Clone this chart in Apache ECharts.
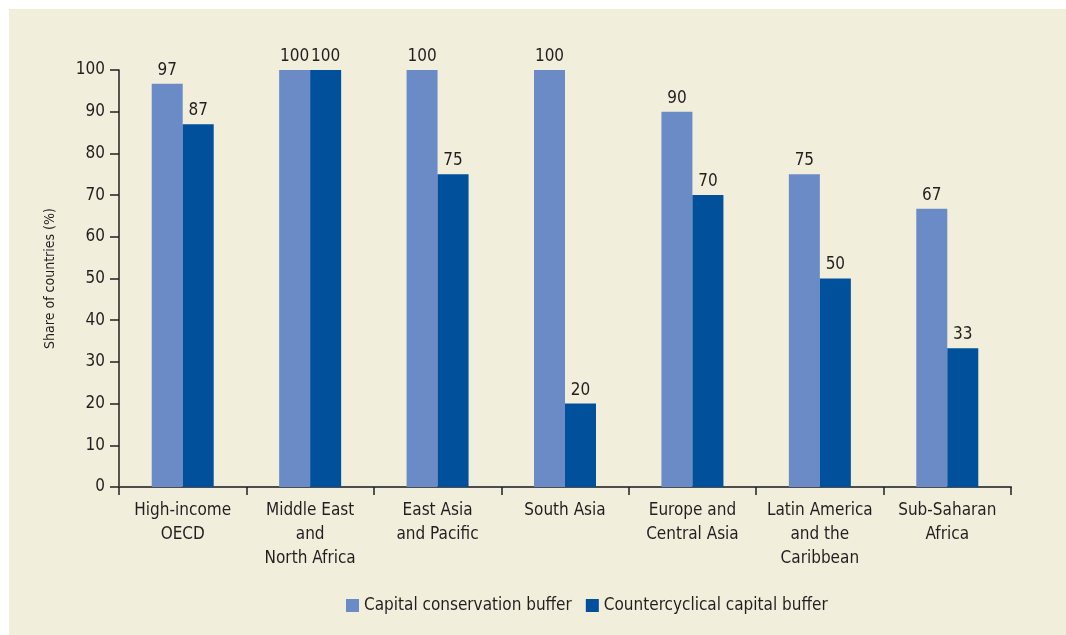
<!DOCTYPE html>
<html>
<head>
    <meta charset="utf-8" />
    <title>Capital buffers by region</title>
    <script src="https://cdn.jsdelivr.net/npm/echarts@6/dist/echarts.min.js"></script>
    <style>
        body { margin: 0; background: #ffffff; }
        #main { position: absolute; left: 9px; top: 9px; width: 1057px; height: 626px; }
    </style>
</head>
<body>
<div id="main"></div>
<script type="text/javascript">
    var regions = ['High-income\nOECD', 'Middle East\nand\nNorth Africa', 'East Asia\nand Pacific', 'South Asia',
                   'Europe and\nCentral Asia', 'Latin America\nand the\nCaribbean', 'Sub-Saharan\nAfrica'];
    var conservation = [96.7, 100, 100, 100, 90, 75, 66.7];
    var countercyclical = [87, 100, 75, 20, 70, 50, 33.3];
    var seriesNames = ['Capital conservation buffer', 'Countercyclical capital buffer'];

    var font = "'DejaVu Sans Condensed', 'Liberation Sans Narrow', sans-serif";
    var ink = '#231f20';

    var myChart = echarts.init(document.getElementById('main'));

    var barLabel = {
        show: true,
        position: 'top',
        distance: 5,
        color: ink,
        fontFamily: font,
        fontSize: 17,
        formatter: function (p) { return Math.round(p.value); }
    };

    var option = {
        backgroundColor: '#f2eedc',
        animation: false,
        textStyle: { fontFamily: font, color: ink },
        grid: { left: 110, right: 55, top: 61, bottom: 148 },
        legend: {
            bottom: 16,
            left: 332,
            itemWidth: 13,
            itemHeight: 13,
            itemGap: 14,
            icon: 'rect',
            textStyle: { fontFamily: font, fontSize: 17, color: ink },
            data: seriesNames
        },
        xAxis: {
            type: 'category',
            data: regions,
            axisLine: { lineStyle: { color: '#4d4d4d', width: 2 } },
            axisTick: { show: true, length: 8, lineStyle: { color: ink, width: 1.5 } },
            axisLabel: { color: ink, fontFamily: font, fontSize: 17, lineHeight: 24, margin: 12, interval: 0 }
        },
        yAxis: {
            type: 'value',
            min: 0,
            max: 100,
            interval: 10,
            name: 'Share of countries (%)',
            nameLocation: 'middle',
            nameGap: 62,
            nameTextStyle: { color: ink, fontFamily: font, fontSize: 14 },
            axisLine: { show: true, lineStyle: { color: ink, width: 1.5 } },
            axisTick: { show: true, length: 9, lineStyle: { color: ink, width: 1.5 } },
            axisLabel: { color: ink, fontFamily: font, fontSize: 17, margin: 14 },
            splitLine: { show: false }
        },
        series: [
            {
                name: seriesNames[0],
                type: 'bar',
                barWidth: 31,
                barGap: '0%',
                itemStyle: { color: '#6b8bc7' },
                label: barLabel,
                data: conservation
            },
            {
                name: seriesNames[1],
                type: 'bar',
                barWidth: 31,
                barGap: '0%',
                itemStyle: { color: '#01509b' },
                label: barLabel,
                data: countercyclical
            }
        ]
    };

    myChart.setOption(option);
</script>
</body>
</html>
